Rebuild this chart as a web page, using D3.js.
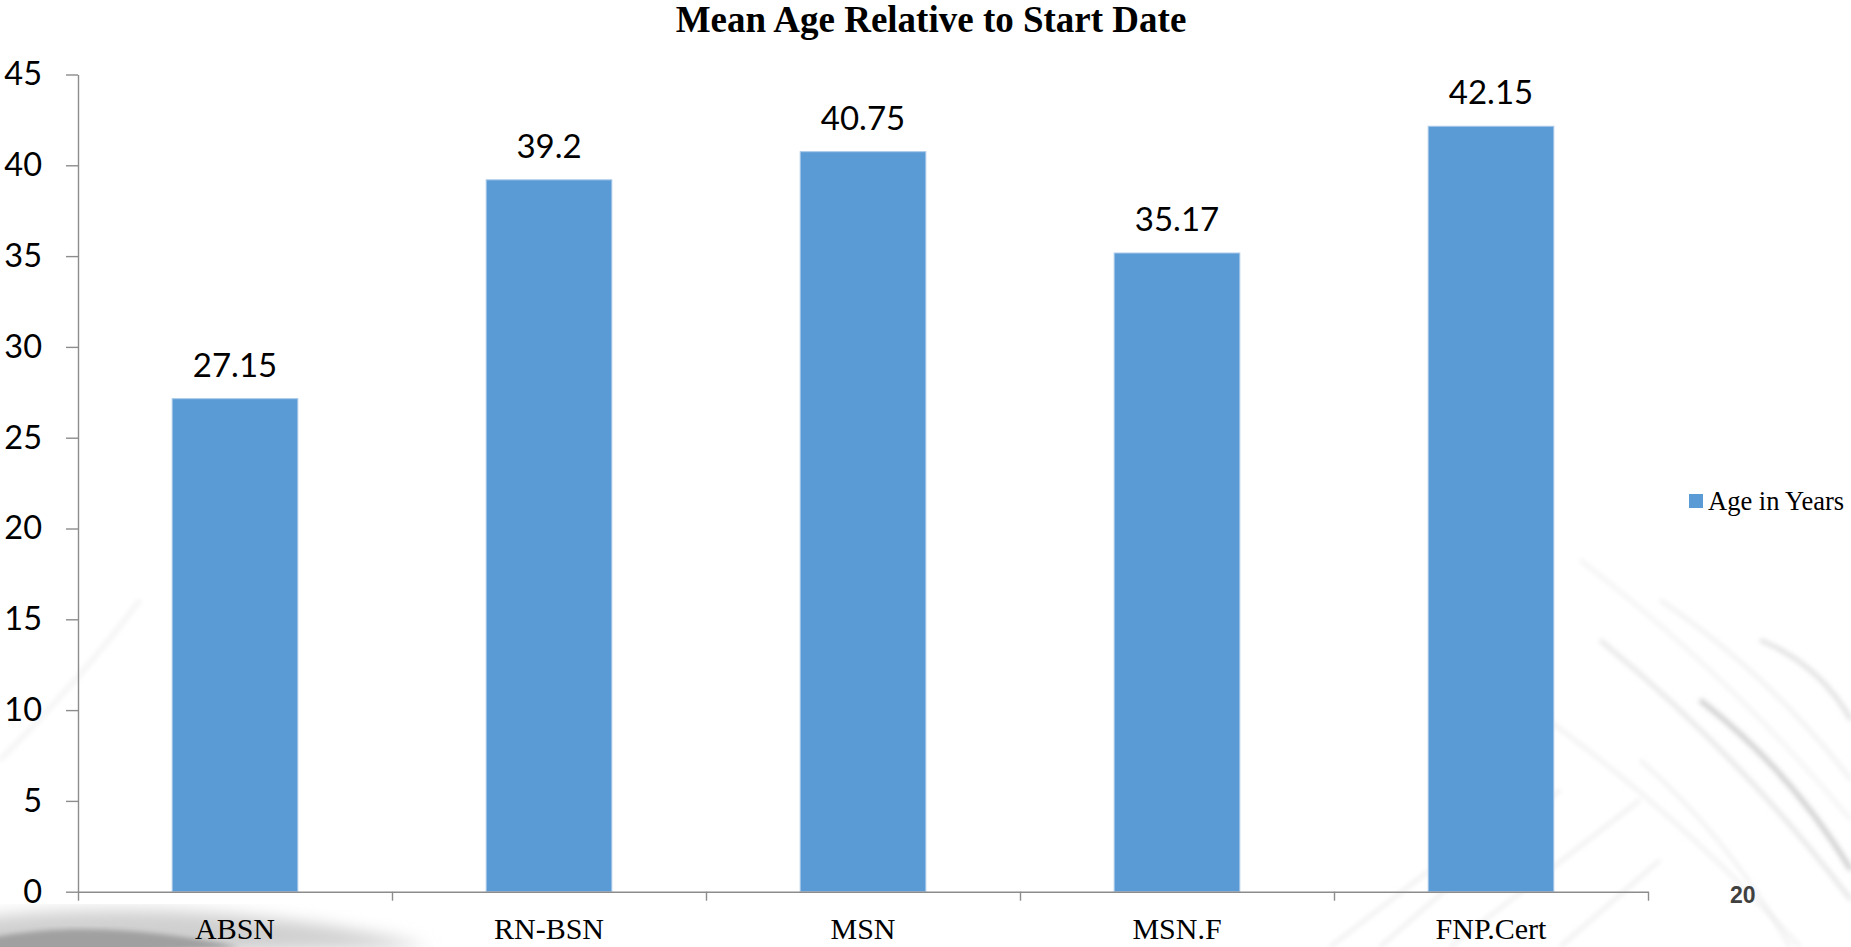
<!DOCTYPE html>
<html>
<head>
<meta charset="UTF-8">
<title>Mean Age Relative to Start Date</title>
<script src="https://cdnjs.cloudflare.com/ajax/libs/d3/7.8.5/d3.min.js"></script>
<style>
body { margin:0; background:#fff; overflow:hidden; }
.tick text { font-family: Lato, "Open Sans", sans-serif; font-size:32.5px; fill:#000; }
.domain, .tick line { stroke:#8c8c8c; stroke-width:1.4; }
.vlabel { font-family: Lato, "Open Sans", sans-serif; font-size:33px; fill:#000; }
.xlabel { font-family: "Liberation Serif", "Times New Roman", serif; font-size:30px; fill:#000; }
.title { font-family: "Liberation Serif", "Times New Roman", serif; font-size:37px; font-weight:bold; }
.legend { font-family: "Liberation Serif", "Times New Roman", serif; font-size:26.5px; }
.pagenum { font-family: "Liberation Sans", Arial, sans-serif; font-size:23px; font-weight:bold; fill:#404040; }
</style>
</head>
<body>
<div id="chart"></div>
<script>
var categories = ["ABSN", "RN-BSN", "MSN", "MSN.F", "FNP.Cert"];
var values = [27.15, 39.2, 40.75, 35.17, 42.15];
var yTicks = [0, 5, 10, 15, 20, 25, 30, 35, 40, 45];
var seriesName = "Age in Years";
var title = "Mean Age Relative to Start Date";

var width = 1851, height = 947;
var plotLeft = 78, plotRight = 1648, plotTop = 74.5, plotBottom = 891.7;
var barColor = "#5b9bd5";

var svg = d3.select("#chart").append("svg").attr("width", width).attr("height", height);

// slide background streaks (decoration only)
var defs = svg.append("defs");
defs.append("filter").attr("id", "blur").append("feGaussianBlur").attr("stdDeviation", 2.5);
defs.append("filter").attr("id", "blur2").append("feGaussianBlur").attr("stdDeviation", 8);
var bg = svg.append("g").attr("fill", "none");
bg.append("path").attr("d", "M-20,918 C120,900 300,912 430,947 L-20,960 Z")
  .attr("fill", "#d0d0d0").attr("filter", "url(#blur2)");
bg.append("path").attr("d", "M-20,940 C60,922 150,928 240,947 L-20,960 Z")
  .attr("fill", "#a0a0a0").attr("filter", "url(#blur)");
bg.append("path").attr("d", "M0,760 C60,700 110,640 140,600").attr("stroke", "#f2f2f2").attr("stroke-width", 4).attr("filter", "url(#blur)");
[[1600,640,1851,900,"#e4e4e4",4],[1660,600,1851,780,"#ececec",3],[1700,700,1851,870,"#cfcfcf",5],
 [1520,700,1800,947,"#ededed",3],[1760,640,1851,720,"#dddddd",4],[1640,760,1790,947,"#e6e6e6",2],
 [1580,560,1851,820,"#f0f0f0",3]]
  .forEach(function(s){
    bg.append("path").attr("d", "M"+s[0]+","+s[1]+" Q"+((s[0]+s[2])/2+15)+","+((s[1]+s[3])/2-15)+" "+s[2]+","+s[3])
      .attr("stroke", s[4]).attr("stroke-width", s[5]).attr("filter", "url(#blur)");
  });
[[1380,947,1560,790],[1450,947,1640,800],[1560,947,1660,860],[1330,947,1430,870]].forEach(function(s){
  bg.append("path").attr("d", "M"+s[0]+","+s[1]+" L"+s[2]+","+s[3]).attr("stroke", "#e8e8e8").attr("stroke-width", 2.5).attr("filter", "url(#blur)");
});
[1612, 1722].forEach(function(x){
  bg.append("line").attr("x1", x).attr("x2", x).attr("y1", 0).attr("y2", 620)
    .attr("stroke", "#f3f3f3").attr("stroke-width", 6).attr("filter", "url(#blur)");
});

var x = d3.scaleBand().domain(categories).range([plotLeft, plotRight]).paddingInner(0.6).paddingOuter(0.3);
var y = d3.scaleLinear().domain([0, 45]).range([plotBottom, plotTop]);
var edge = d3.scaleLinear().domain([0, categories.length]).range([plotLeft, plotRight]);

svg.append("text").attr("class", "title").attr("x", 931).attr("y", 32)
  .attr("text-anchor", "middle").text(title);

svg.append("g").attr("class", "yaxis").attr("transform", "translate(" + plotLeft + ",0)")
  .call(d3.axisLeft(y).tickValues(yTicks).tickSize(12).tickPadding(24).tickSizeOuter(0));

svg.selectAll(".bar").data(values).enter().append("rect")
  .attr("class", "bar")
  .attr("x", function(d, i){ return x(categories[i]); })
  .attr("width", x.bandwidth())
  .attr("y", function(d){ return y(d); })
  .attr("height", function(d){ return y(0) - y(d); })
  .attr("fill", barColor)
  .attr("stroke", "#a9c9e9").attr("stroke-width", 1);

svg.append("g").attr("class", "xaxis").attr("transform", "translate(0," + plotBottom + ")")
  .call(d3.axisBottom(edge).tickValues(d3.range(categories.length + 1)).tickFormat("").tickSize(9).tickSizeOuter(0));

svg.selectAll(".vlabel").data(values).enter().append("text")
  .attr("class", "vlabel")
  .attr("x", function(d, i){ return x(categories[i]) + x.bandwidth() / 2; })
  .attr("y", function(d){ return y(d) - 22; })
  .attr("text-anchor", "middle")
  .text(function(d){ return d; });

svg.selectAll(".xlabel").data(categories).enter().append("text")
  .attr("class", "xlabel")
  .attr("x", function(d){ return x(d) + x.bandwidth() / 2; })
  .attr("y", 939)
  .attr("text-anchor", "middle")
  .text(function(d){ return d; });

var lg = svg.append("g").attr("transform", "translate(1689,494)");
lg.append("rect").attr("width", 14).attr("height", 14).attr("fill", barColor);
lg.append("text").attr("class", "legend").attr("x", 19).attr("y", 16).text(seriesName);

svg.append("text").attr("class", "pagenum").attr("x", 1730).attr("y", 903).text("20");
</script>
</body>
</html>
